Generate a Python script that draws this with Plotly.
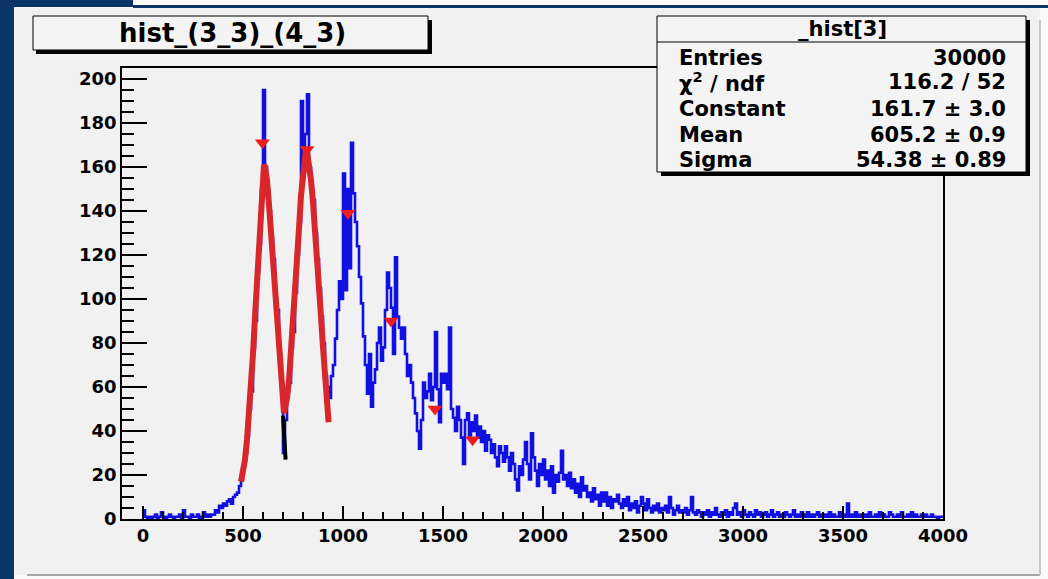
import plotly.graph_objects as go

# ---------------- data ----------------
BIN_WIDTH = 10
counts = (
    [4, 1, 0, 1, 0, 1, 2, 0, 1, 3]
    + [1, 0, 1, 2, 1, 0, 1, 1, 2, 0]
    + [4, 1, 1, 0, 2, 1, 1, 2, 0, 1]
    + [3, 1, 2, 1, 2, 2, 4, 3, 6, 5]
    + [7, 6, 8, 9, 7, 10, 11, 12, 15, 18]
    + [24, 30, 38, 50, 58, 78, 90, 112, 125, 150]
    + [195, 160, 150, 140, 128, 118, 100, 95, 75, 62]
    + [30, 45, 58, 62, 78, 85, 103, 120, 135, 190]
    + [165, 175, 193, 160, 150, 145, 130, 118, 105, 92]
    + [80, 65, 60, 55, 65, 70, 82, 95, 108, 100]
    + [157, 104, 150, 114, 171, 148, 135, 124, 110, 98]
    + [83, 70, 57, 75, 51, 62, 68, 80, 87, 72]
    + [78, 95, 112, 105, 96, 75, 119, 92, 87, 82]
    + [87, 75, 65, 70, 62, 55, 48, 40, 32, 45]
    + [62, 55, 58, 66, 54, 60, 85, 59, 44, 66]
    + [62, 66, 59, 87, 50, 46, 40, 51, 45, 37]
    + [25, 45, 48, 38, 44, 40, 47, 37, 42, 35]
    + [40, 31, 38, 36, 30, 34, 28, 24, 33, 30]
    + [26, 33, 28, 22, 30, 25, 18, 13, 24, 20]
    + [27, 35, 25, 18, 39, 28, 22, 15, 25, 20]
    + [27, 18, 22, 15, 24, 12, 20, 17, 21, 31]
    + [18, 20, 15, 21, 14, 18, 12, 16, 10, 19]
    + [13, 15, 10, 12, 8, 14, 9, 11, 6, 12]
    + [8, 12, 6, 10, 5, 9, 8, 11, 7, 5]
    + [9, 6, 10, 4, 7, 5, 8, 3, 6, 10]
    + [7, 4, 9, 5, 3, 6, 4, 7, 3, 5]
    + [4, 6, 3, 10, 5, 2, 4, 6, 3, 4]
    + [3, 5, 2, 4, 10, 3, 2, 4, 3, 1]
    + [3, 2, 4, 1, 3, 2, 5, 2, 1, 3]
    + [2, 4, 1, 3, 2, 5, 7, 2, 3, 1]
    + [4, 2, 1, 3, 2, 1, 4, 2, 3, 1]
    + [2, 3, 1, 2, 4, 1, 2, 3, 1, 2]
    + [1, 3, 2, 1, 2, 4, 1, 2, 1, 3]
    + [2, 1, 3, 1, 2, 1, 2, 3, 1, 2]
    + [1, 2, 1, 3, 1, 2, 1, 1, 3, 1]
    + [2, 1, 7, 1, 2, 1, 3, 1, 2, 1]
    + [1, 2, 1, 3, 1, 1, 2, 1, 3, 1]
    + [2, 1, 1, 3, 2, 1, 1, 2, 1, 3]
    + [1, 1, 2, 1, 3, 1, 2, 1, 1, 2]
    + [1, 2, 1, 1, 2, 1, 1, 0, 1, 1]
)
bin_edges = [i * BIN_WIDTH for i in range(len(counts) + 1)]

fit1_x = [490, 500, 510, 520, 530, 540, 550, 560, 570, 580, 590, 600, 605, 610,
          620, 630, 640, 650, 660, 670, 680, 690, 700, 705]
fit1_y = [17, 21, 27, 36, 47, 60, 75, 92, 110, 128, 145, 157, 161, 160,
          154, 143, 130, 117, 104, 92, 78, 65, 53, 48]

fit2_x = [705, 710, 720, 730, 740, 750, 760, 770, 780, 790, 800, 810, 815, 820,
          830, 840, 850, 860, 870, 880, 890, 900, 910, 920, 928]
fit2_y = [48, 50, 55, 63, 75, 88, 102, 117, 132, 147, 158, 166, 168, 167,
          162, 154, 144, 133, 120, 106, 92, 78, 66, 54, 44]

black_x = [700, 703, 706, 710, 713]
black_y = [47, 42, 36, 31, 27]

peak_x = [597, 820, 1025, 1240, 1460, 1648]
peak_y = [171, 168, 139, 90, 50, 36]

x_ticks = [0, 500, 1000, 1500, 2000, 2500, 3000, 3500, 4000]
y_ticks = [0, 20, 40, 60, 80, 100, 120, 140, 160, 180, 200]

title_text = "hist_(3_3)_(4_3)"
stats_header = "_hist[3]"
stats_names = ["Entries", "\u03c7<sup>2</sup> / ndf", "Constant", "Mean", "Sigma"]
stats_values = ["30000", "116.2 / 52", "161.7 \u00b1 3.0", "605.2 \u00b1 0.9", "54.38 \u00b1 0.89"]

# ---------------- layout geometry (pixels) ----------------
WIDTH, HEIGHT = 1048, 579
L, R, T, B = 122, 943, 68, 519
PW, PH = R - L, B - T


def px(x):
    return (x - L) / PW


def py(y):
    return (B - y) / PH


NAVY = "#0b3566"
CANVAS = "#f1f1f1"
FONT = "DejaVu Sans"

fig = go.Figure()

hist_y = counts + [counts[-1]]
fig.add_trace(go.Scatter(x=bin_edges, y=hist_y, mode="lines", line=dict(color="#1010e0", width=2.6, shape="hv"),
                         hoverinfo="skip", showlegend=False))
fig.add_trace(go.Scatter(x=black_x, y=black_y, mode="lines", line=dict(color="black", width=4),
                         showlegend=False))
fig.add_trace(go.Scatter(x=fit1_x, y=fit1_y, mode="lines", line=dict(color="#d8262a", width=6),
                         showlegend=False))
fig.add_trace(go.Scatter(x=fit2_x, y=fit2_y, mode="lines", line=dict(color="#d8262a", width=6),
                         showlegend=False))
fig.add_trace(go.Scatter(x=peak_x, y=peak_y, mode="markers",
                         marker=dict(symbol="triangle-down", size=13, color="#ee1c1c"),
                         showlegend=False))

shapes = []


def rect(x0, y0, x1, y1, fill, line_color=None, line_width=0, layer="below"):
    shapes.append(dict(type="rect", xref="paper", yref="paper",
                       x0=px(x0), x1=px(x1), y0=py(y1), y1=py(y0),
                       fillcolor=fill, layer=layer,
                       line=dict(color=line_color or fill, width=line_width)))


def hline(x0, x1, y, color, width, layer="below"):
    shapes.append(dict(type="line", xref="paper", yref="paper",
                       x0=px(x0), x1=px(x1), y0=py(y), y1=py(y),
                       line=dict(color=color, width=width), layer=layer))


def vline(x, y0, y1, color, width, layer="below"):
    shapes.append(dict(type="line", xref="paper", yref="paper",
                       x0=px(x), x1=px(x), y0=py(y0), y1=py(y1),
                       line=dict(color=color, width=width), layer=layer))


# page / canvas decoration
rect(14, 8, 1040, 575, CANVAS)
hline(27, 1040, 575, "#a8a8a8", 2)
vline(1040, 20, 575, "#c8c8c8", 2)
rect(0, 0, 14, 579, NAVY)
rect(0, 0, 133, 7, NAVY)
rect(133, 5, 1048, 8, NAVY)

# title box
rect(36, 20, 432, 54, "black", layer="above")
rect(33, 16, 428, 50, "#f4f4f4", "black", 1, layer="above")

# stats box
rect(661, 20, 1030, 176, "black", layer="above")
rect(657, 16, 1026, 172, "#f4f4f4", "black", 1, layer="above")
hline(657, 1026, 42, "black", 1, layer="above")

annotations = [
    dict(text=title_text, x=px(232), y=py(33), xref="paper", yref="paper",
         xanchor="center", yanchor="middle", showarrow=False,
         font=dict(family=FONT, size=26, color="black", weight="bold")),
    dict(text=stats_header, x=px(842), y=py(29), xref="paper", yref="paper",
         xanchor="center", yanchor="middle", showarrow=False,
         font=dict(family=FONT, size=21, color="black", weight="bold")),
]
row_y = [58, 82, 109, 135, 160]
for name, val, yy in zip(stats_names, stats_values, row_y):
    annotations.append(dict(text=name, x=px(677), y=py(yy), xref="paper", yref="paper",
                            xanchor="left", yanchor="middle", showarrow=False,
                            font=dict(family=FONT, size=21, color="black", weight="bold")))
    annotations.append(dict(text=val, x=px(1008), y=py(yy), xref="paper", yref="paper",
                            xanchor="right", yanchor="middle", showarrow=False,
                            font=dict(family=FONT, size=21, color="black", weight="bold")))

fig.update_layout(
    width=WIDTH, height=HEIGHT,
    margin=dict(l=L, r=WIDTH - R, t=T, b=HEIGHT - B, pad=0),
    paper_bgcolor="#fafafa", plot_bgcolor=CANVAS,
    shapes=shapes, annotations=annotations,
    showlegend=False,
    xaxis=dict(range=[-105, 4000], tickvals=x_ticks, ticktext=[str(v) for v in x_ticks],
               ticks="inside", ticklen=13, tickwidth=1.5, tickcolor="black",
               minor=dict(dtick=100, tick0=0, ticks="inside", ticklen=7, tickwidth=1.5, tickcolor="black",
                          showgrid=False),
               showline=True, linecolor="black", linewidth=1.5, mirror=True,
               showgrid=False, zeroline=False,
               tickfont=dict(family=FONT, size=18, color="black", weight="bold")),
    yaxis=dict(range=[0, 205], tickvals=y_ticks, ticktext=[str(v) for v in y_ticks],
               ticks="inside", ticklen=25, tickwidth=1.5, tickcolor="black",
               minor=dict(dtick=5, tick0=0, ticks="inside", ticklen=12, tickwidth=1.5, tickcolor="black",
                          showgrid=False),
               showline=True, linecolor="black", linewidth=1.5, mirror=True,
               showgrid=False, zeroline=False,
               tickfont=dict(family=FONT, size=18, color="black", weight="bold")),
)

fig.write_html("out.html")
